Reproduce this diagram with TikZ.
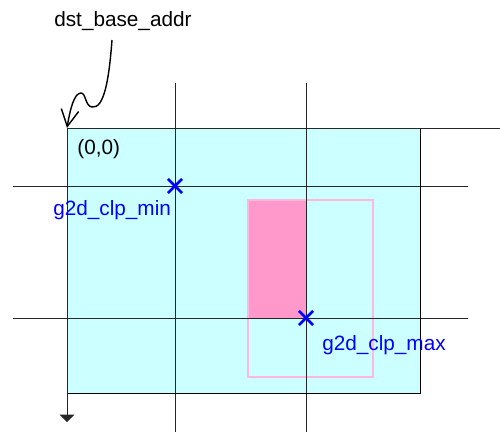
\documentclass[tikz,border=0pt]{standalone}
\usepackage{fontspec}
\setmainfont{Liberation Sans}
\usetikzlibrary{arrows.meta, shapes.misc, positioning}
\definecolor{areacyan}{HTML}{CCFFFF}
\definecolor{clippink}{HTML}{FF99CC}
\definecolor{rectpink}{HTML}{FFB8DC}
\tikzset{
  >=Stealth,
  guide/.style  = {draw=black!85, line width=0.5pt},
  xmark/.style  = {draw=blue, cross out, line width=1.6pt,
                   minimum size=6.5pt, inner sep=0pt},
  lbl/.style    = {font=\fontsize{11.8}{14}\selectfont, inner sep=0pt},
  clplbl/.style = {lbl, text=blue},
}

\begin{document}
\begin{tikzpicture}[x=0.02cm, y=-0.02cm]
  \useasboundingbox (0,0) rectangle (500,432);

  % destination surface and clip window
  \fill[areacyan]  (67,128) rectangle (420,393);
  \fill[clippink]  (248,200) rectangle (306,318);
  \draw[rectpink, line width=0.6pt] (248,200) rectangle (373,377);

  % clip guides
  \foreach \y in {186, 318}
    \draw[guide] (13,\y) -- (468,\y);
  \foreach \x in {175, 306}
    \draw[guide] (\x,83) -- (\x,432);

  \draw[black, line width=0.5pt] (67,128) rectangle (420,393);

  % axes
  \coordinate (org)  at (67,128);
  \coordinate (xend) at (500,128);
  \coordinate (yend) at (67,422);
  \draw[guide] (org) -- (xend);
  \draw[guide, -{Triangle[length=4.2pt, width=8.4pt]}] (org) -- (yend);

  % base address pointer
  \node[lbl, anchor=base west] (base) at (54,27) {dst\_base\_addr};
  \coordinate (sq) at (112,40);
  \draw[line width=0.8pt, -{Straight Barb[length=9.5pt, width=10pt]}]
    (sq) .. controls (109,80) and (104,109) .. (92,107)
         .. controls (85,106) and (86,93) .. (81,93)
         .. controls (74,93) and (70,110) .. (org);
  \node[lbl, anchor=base west] (zero) at (77,155) {(0,0)};

  % clip corners
  \node[xmark] (clpmin) at (175,186) {};
  \node[xmark] (clpmax) at (306,318) {};
  \node[clplbl, anchor=base west] (minlbl) at (53,215) {g2d\_clp\_min};
  \node[clplbl, anchor=base west] (maxlbl) at (322,350) {g2d\_clp\_max};
\end{tikzpicture}
\end{document}
